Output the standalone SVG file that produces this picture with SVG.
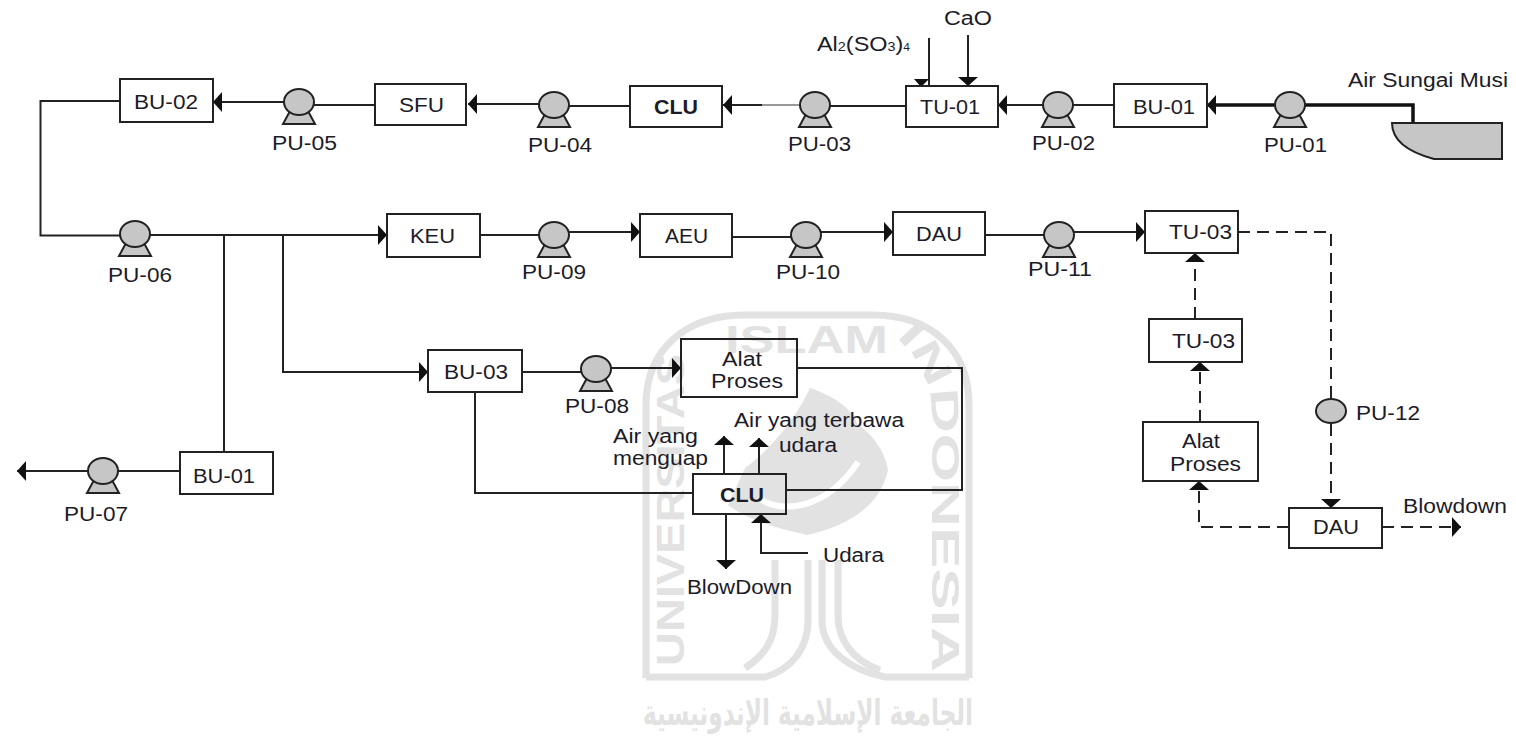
<svg xmlns="http://www.w3.org/2000/svg" xmlns:xlink="http://www.w3.org/1999/xlink" width="1516" height="738" viewBox="0 0 1516 738">
<style>
text{font-family:"Liberation Sans",Arial,sans-serif;font-size:19.5px;fill:#1c1c28}
.b{font-weight:bold}
.box{fill:#fff;stroke:#222;stroke-width:2}
.clear{fill:none;stroke:#222;stroke-width:2}
.c{fill:none;stroke:#222;stroke-width:2}
.t{stroke-width:3.5;stroke:#111}
.d{stroke-dasharray:12 7}
.wl{fill:none;stroke:#e2e2e2;stroke-width:7}
.wf{fill:#e2e2e2}
.wt{font-size:39px;font-weight:bold;fill:#e2e2e2}
.wa{font-family:"DejaVu Sans",sans-serif;font-size:36px;font-weight:bold;fill:#e2e2e2}
.h{fill:#111}
</style>
<defs>
<marker id="a" markerUnits="userSpaceOnUse" viewBox="0 -10 9 20" refX="9" refY="0" markerWidth="9" markerHeight="20" orient="auto"><path d="M0-10L9 0L0 10z" fill="#111"/></marker>
<g id="pump"><path d="M-9 9L9 9L16 22L-16 22z" fill="#c6c6c6" stroke="#222" stroke-width="2"/><ellipse rx="15" ry="13" fill="#c6c6c6" stroke="#222" stroke-width="2"/></g>
<path id="wleft" d="M684 666V352"/>
<path id="wright" d="M896 337C918 358 932 385 932 420V666"/>
</defs>
<g id="watermark">
<path class="wl" d="M646 678V405C646 350 685 315 745 315H872C932 315 969 350 969 405V678"/>
<path class="wl" d="M646 677H765C790 670 808 650 808 620V560"/>
<path class="wl" d="M969 677H885C850 670 822 650 822 620V560"/>
<path class="wl" d="M775 560V615C775 640 765 655 745 668"/>
<path class="wl" d="M838 560V615C838 640 852 660 880 670"/>
<path class="wf" d="M810 388C795 420 770 450 745 468L728 505C750 522 785 530 807 535C840 528 880 510 888 470C885 450 870 432 858 425C850 405 830 395 810 388z"/>
<path d="M762 500C780 512 825 512 858 462" fill="none" stroke="#fff" stroke-width="6"/>
<text class="wt"><textPath href="#wleft" xlink:href="#wleft" textLength="312" lengthAdjust="spacingAndGlyphs">UNIVERSITAS</textPath></text>
<text class="wt" x="725" y="353" textLength="163" lengthAdjust="spacingAndGlyphs">ISLAM</text>
<text class="wt"><textPath href="#wright" xlink:href="#wright" textLength="345" lengthAdjust="spacingAndGlyphs">INDONESIA</textPath></text>
<text class="wa" x="643" y="725" textLength="330" lengthAdjust="spacingAndGlyphs">الجامعة الإسلامية الإندونيسية</text>
</g>
<g id="connectors">
<path class="c t" d="M1413 123V105H1305"/>
<path class="c t" marker-end="url(#a)" d="M1275 105H1207"/>
<path class="c" d="M1114 105H1073"/>
<path class="c" marker-end="url(#a)" d="M1043 105H998"/>
<path class="c" d="M906 106H829"/>
<path d="M800 105H762" fill="none" stroke="#999" stroke-width="2"/>
<path class="c" marker-end="url(#a)" d="M762 105H723"/>
<path class="c" d="M630 106H569"/>
<path class="c" marker-end="url(#a)" d="M539 104H468"/>
<path class="c" d="M375 105H314"/>
<path class="c" marker-end="url(#a)" d="M284 102H213"/>
<path class="c" d="M120 101H40.5V235.5H120"/>
<path class="c" d="M224 235V452"/>
<path class="c" d="M283 235V372H428" marker-end="url(#a)"/>
<path class="c" marker-end="url(#a)" d="M150 235H387"/>
<path class="c" d="M480 235H539"/>
<path class="c" marker-end="url(#a)" d="M569 232H640"/>
<path class="c" d="M732 237H791"/>
<path class="c" marker-end="url(#a)" d="M821 232H893"/>
<path class="c" d="M985 235H1044"/>
<path class="c" marker-end="url(#a)" d="M1074 232H1145"/>
<path class="c" marker-end="url(#a)" d="M88 471H17"/>
<path class="c" d="M180 471H118"/>
<path class="c" d="M522 372H581"/>
<path class="c" marker-end="url(#a)" d="M611 368H681"/>
<path class="c" d="M797 368H962V490H786"/>
<path class="c" d="M475 392V493H693"/>
<path class="c" marker-end="url(#a)" d="M724 474V436"/>
<path class="c" marker-end="url(#a)" d="M759 474V438"/>
<path class="c" marker-end="url(#a)" d="M726 514V569"/>
<path class="c" marker-end="url(#a)" d="M808 553H761V514"/>
<path class="c" d="M929 38V86"/>
<path class="h" d="M914 79H929L921 87z"/>
<path class="c" marker-end="url(#a)" d="M968 35V86"/>
<path class="c d" d="M1238 232H1331V399"/>
<path class="c d" marker-end="url(#a)" d="M1331 424V508"/>
<path class="c d" marker-end="url(#a)" d="M1195 319V253"/>
<path class="c d" marker-end="url(#a)" d="M1200 422V362"/>
<path class="c d" marker-end="url(#a)" d="M1289 527H1199V481"/>
<path class="c d" marker-end="url(#a)" d="M1382 527H1461"/>
</g>
<g id="tank"><path d="M1392 123H1502V159H1434C1408 152 1392 140 1392 123z" fill="#c6c6c6" stroke="#222" stroke-width="2"/></g>
<g id="BU-02"><rect class="box" x="120" y="79" width="93" height="43"/><text x="134" y="109" textLength="64" lengthAdjust="spacingAndGlyphs">BU-02</text></g>
<g id="SFU"><rect class="box" x="375" y="84" width="91" height="41"/><text x="399" y="112" textLength="45" lengthAdjust="spacingAndGlyphs">SFU</text></g>
<g id="CLU-1"><rect class="box" x="630" y="86" width="92" height="41"/><text class="b" x="654" y="114" textLength="44" lengthAdjust="spacingAndGlyphs">CLU</text></g>
<g id="TU-01"><rect class="box" x="906" y="86" width="92" height="41"/><text x="920" y="114" textLength="60" lengthAdjust="spacingAndGlyphs">TU-01</text></g>
<g id="BU-01a"><rect class="box" x="1114" y="84" width="93" height="43"/><text x="1133" y="114" textLength="62" lengthAdjust="spacingAndGlyphs">BU-01</text></g>
<g id="KEU"><rect class="box" x="387" y="214" width="93" height="43"/><text x="410" y="243" textLength="45" lengthAdjust="spacingAndGlyphs">KEU</text></g>
<g id="AEU"><rect class="box" x="640" y="214" width="92" height="43"/><text x="665" y="243" textLength="43" lengthAdjust="spacingAndGlyphs">AEU</text></g>
<g id="DAU-1"><rect class="box" x="893" y="212" width="92" height="43"/><text x="916" y="241" textLength="46" lengthAdjust="spacingAndGlyphs">DAU</text></g>
<g id="TU-03a"><rect class="box" x="1145" y="211" width="93" height="42"/><text x="1169" y="239" textLength="63" lengthAdjust="spacingAndGlyphs">TU-03</text></g>
<g id="TU-03b"><rect class="box" x="1149" y="319" width="93" height="43"/><text x="1172" y="348" textLength="63" lengthAdjust="spacingAndGlyphs">TU-03</text></g>
<g id="Alat-2"><rect class="box" x="1143" y="422" width="115" height="59"/><text x="1182" y="448" textLength="38" lengthAdjust="spacingAndGlyphs">Alat</text><text x="1170" y="471" textLength="71" lengthAdjust="spacingAndGlyphs">Proses</text></g>
<g id="DAU-2"><rect class="box" x="1289" y="508" width="93" height="40"/><text x="1313" y="534" textLength="46" lengthAdjust="spacingAndGlyphs">DAU</text></g>
<g id="BU-03"><rect class="box" x="428" y="350" width="94" height="42"/><text x="444" y="379" textLength="64" lengthAdjust="spacingAndGlyphs">BU-03</text></g>
<g id="Alat-1"><rect class="clear" x="681" y="339" width="116" height="58"/><text x="722" y="366" textLength="40" lengthAdjust="spacingAndGlyphs">Alat</text><text x="711" y="388" textLength="72" lengthAdjust="spacingAndGlyphs">Proses</text></g>
<g id="CLU-2"><rect class="clear" x="693" y="474" width="93" height="40"/><text class="b" x="720" y="502" textLength="44" lengthAdjust="spacingAndGlyphs">CLU</text></g>
<g id="BU-01b"><rect class="box" x="180" y="452" width="93" height="42"/><text x="193" y="483" textLength="62" lengthAdjust="spacingAndGlyphs">BU-01</text></g>
<g id="PU-01"><use href="#pump" xlink:href="#pump" x="1290" y="105"/><text x="1264" y="152" textLength="63" lengthAdjust="spacingAndGlyphs">PU-01</text></g>
<g id="PU-02"><use href="#pump" xlink:href="#pump" x="1058" y="105"/><text x="1032" y="150" textLength="63" lengthAdjust="spacingAndGlyphs">PU-02</text></g>
<g id="PU-03"><use href="#pump" xlink:href="#pump" x="815" y="105"/><text x="788" y="151" textLength="63" lengthAdjust="spacingAndGlyphs">PU-03</text></g>
<g id="PU-04"><use href="#pump" xlink:href="#pump" x="554" y="105"/><text x="528" y="152" textLength="64" lengthAdjust="spacingAndGlyphs">PU-04</text></g>
<g id="PU-05"><use href="#pump" xlink:href="#pump" x="299" y="102"/><text x="272" y="150" textLength="65" lengthAdjust="spacingAndGlyphs">PU-05</text></g>
<g id="PU-06"><use href="#pump" xlink:href="#pump" x="135" y="234"/><text x="108" y="282" textLength="64" lengthAdjust="spacingAndGlyphs">PU-06</text></g>
<g id="PU-07"><use href="#pump" xlink:href="#pump" x="103" y="471"/><text x="64" y="521" textLength="64" lengthAdjust="spacingAndGlyphs">PU-07</text></g>
<g id="PU-08"><use href="#pump" xlink:href="#pump" x="596" y="369"/><text x="565" y="413" textLength="64" lengthAdjust="spacingAndGlyphs">PU-08</text></g>
<g id="PU-09"><use href="#pump" xlink:href="#pump" x="554" y="235"/><text x="522" y="279" textLength="64" lengthAdjust="spacingAndGlyphs">PU-09</text></g>
<g id="PU-10"><use href="#pump" xlink:href="#pump" x="806" y="235"/><text x="776" y="279" textLength="64" lengthAdjust="spacingAndGlyphs">PU-10</text></g>
<g id="PU-11"><use href="#pump" xlink:href="#pump" x="1059" y="235"/><text x="1028" y="276" textLength="64" lengthAdjust="spacingAndGlyphs">PU-11</text></g>
<g id="PU-12"><ellipse cx="1331" cy="411" rx="15" ry="12" fill="#c6c6c6" stroke="#222" stroke-width="2"/><text x="1356" y="420" textLength="64" lengthAdjust="spacingAndGlyphs">PU-12</text></g>
<g id="labels">
<text x="944" y="25" textLength="48" lengthAdjust="spacingAndGlyphs">CaO</text>
<text x="817" y="51" textLength="93" lengthAdjust="spacingAndGlyphs">Al<tspan font-size="12">2</tspan>(SO<tspan font-size="12">3</tspan>)<tspan font-size="10">4</tspan></text>
<text x="1348" y="87" textLength="160" lengthAdjust="spacingAndGlyphs">Air Sungai Musi</text>
<text x="734" y="427" textLength="170" lengthAdjust="spacingAndGlyphs">Air yang terbawa</text>
<text x="779" y="452" textLength="58" lengthAdjust="spacingAndGlyphs">udara</text>
<text x="613" y="443" textLength="85" lengthAdjust="spacingAndGlyphs">Air yang</text>
<text x="613" y="465" textLength="95" lengthAdjust="spacingAndGlyphs">menguap</text>
<text x="823" y="562" textLength="61" lengthAdjust="spacingAndGlyphs">Udara</text>
<text x="687" y="594" textLength="105" lengthAdjust="spacingAndGlyphs">BlowDown</text>
<text x="1403" y="513" textLength="104" lengthAdjust="spacingAndGlyphs">Blowdown</text>
</g>
</svg>
